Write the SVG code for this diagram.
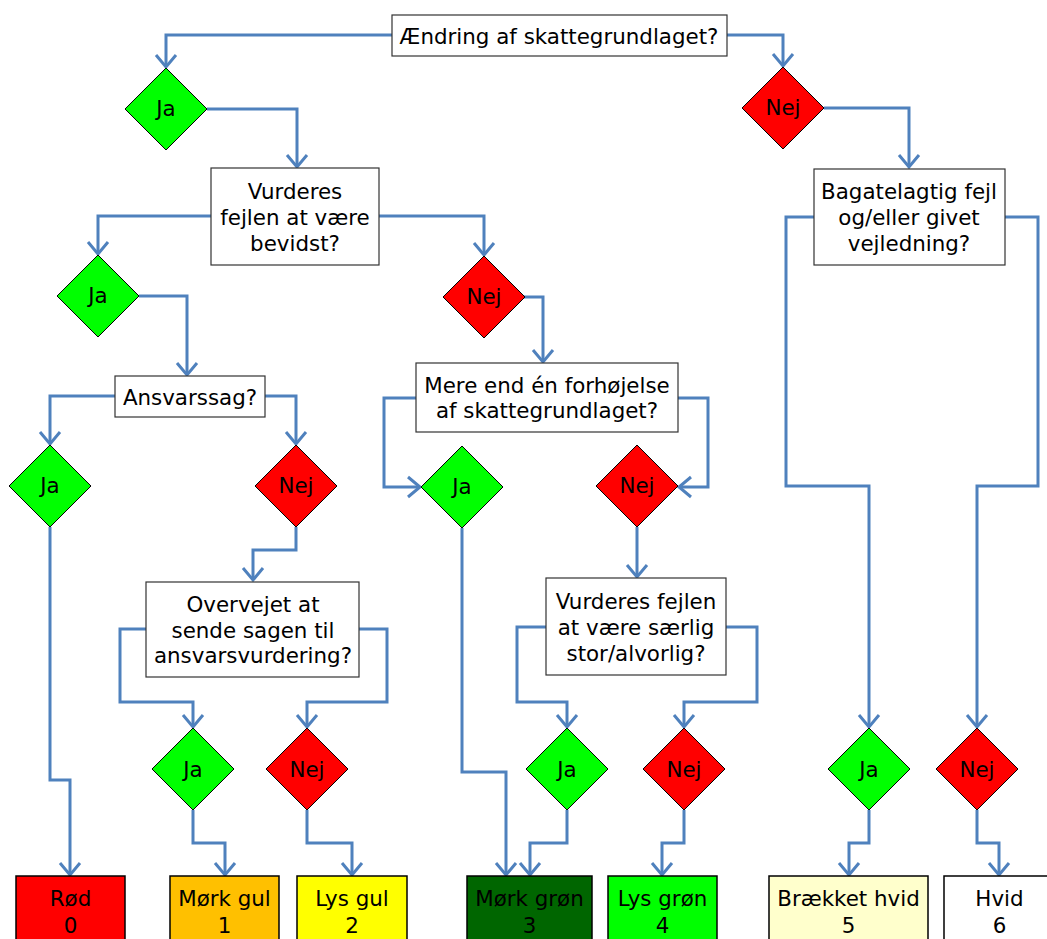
<svg xmlns="http://www.w3.org/2000/svg" width="1047" height="939" viewBox="0 0 1047 939">
<style>
text{font-family:"DejaVu Sans","Verdana",sans-serif;font-size:21.4px;fill:#000;text-anchor:middle}
.q{fill:#fff;stroke:#333;stroke-width:1.2}
.ja{fill:#00ff00;stroke:#000;stroke-width:1}
.nej{fill:#ff0000;stroke:#000;stroke-width:1}
.res{stroke:#000;stroke-width:1.5}
.c path{fill:none;stroke:#4f81bd;stroke-width:3;marker-end:url(#arr)}
</style>
<defs>
<marker id="arr" markerUnits="userSpaceOnUse" orient="auto" refX="0" refY="0" markerWidth="30" markerHeight="30" viewBox="-15 -15 30 30" overflow="visible">
<path d="M-12,-10 L0,0 L-12,10" fill="none" stroke="#4f81bd" stroke-width="3"/>
</marker>
</defs>
<rect width="1047" height="939" fill="#fff"/>
<g class="c" id="connectors">
<path d="M392,35 H166 V67"/>
<path d="M727,35 H783 V66"/>
<path d="M207,109 H297 V167"/>
<path d="M824,108 H909 V167"/>
<path d="M211,216 H98 V254"/>
<path d="M379,216 H484 V255"/>
<path d="M139,296 H187 V375"/>
<path d="M524,297 H543 V362"/>
<path d="M115,396 H50 V444"/>
<path d="M265,396 H296 V444"/>
<path d="M50,527 V780 H70 V875"/>
<path d="M296,527 V550 H253 V580"/>
<path d="M146,629 H120 V702 H193 V727"/>
<path d="M359,629 H387 V702 H307 V727"/>
<path d="M193,810 V843 H225 V875"/>
<path d="M307,810 V843 H352 V875"/>
<path d="M416,398 H384 V487 H420"/>
<path d="M678,398 H708 V487 H679"/>
<path d="M462,528 V772 H506 V875"/>
<path d="M637,527 V577"/>
<path d="M546,627 H517 V702 H567 V727"/>
<path d="M726,627 H757 V702 H684 V727"/>
<path d="M567,810 V843 H530 V875"/>
<path d="M684,810 V843 H662 V875"/>
<path d="M814,217 H786 V486 H869 V727"/>
<path d="M1005,217 H1038 V486 H977 V727"/>
<path d="M869,810 V843 H849 V875"/>
<path d="M977,810 V843 H999 V875"/>
</g>
<g id="q1"><rect class="q" x="392" y="15" width="335" height="41"/><text x="559" y="44">Ændring af skattegrundlaget?</text></g>
<g id="ja1"><polygon class="ja" points="125,109 166,68 207,109 166,150"/><text x="166" y="116">Ja</text></g>
<g id="nej1"><polygon class="nej" points="742,108 783,67 824,108 783,149"/><text x="783" y="115">Nej</text></g>
<g id="q2"><rect class="q" x="211" y="168" width="168" height="97"/><text x="295" y="199">Vurderes</text><text x="295" y="225">fejlen at være</text><text x="295" y="251">bevidst?</text></g>
<g id="q3"><rect class="q" x="814" y="169" width="191" height="96"/><text x="909" y="199">Bagatelagtig fejl</text><text x="909" y="225">og/eller givet</text><text x="909" y="251">vejledning?</text></g>
<g id="ja2"><polygon class="ja" points="57,296 98,255 139,296 98,337"/><text x="98" y="303">Ja</text></g>
<g id="nej2"><polygon class="nej" points="443,297 484,256 525,297 484,338"/><text x="484" y="304">Nej</text></g>
<g id="q4"><rect class="q" x="115" y="376" width="150" height="41"/><text x="190" y="405">Ansvarssag?</text></g>
<g id="q5"><rect class="q" x="416" y="363" width="262" height="69"/><text x="547" y="393">Mere end én forhøjelse</text><text x="547" y="418">af skattegrundlaget?</text></g>
<g id="ja3"><polygon class="ja" points="9,486 50,445 91,486 50,527"/><text x="50" y="493">Ja</text></g>
<g id="nej3"><polygon class="nej" points="255,486 296,445 337,486 296,527"/><text x="296" y="493">Nej</text></g>
<g id="ja5"><polygon class="ja" points="421,487 462,446 503,487 462,528"/><text x="462" y="494">Ja</text></g>
<g id="nej5"><polygon class="nej" points="596,486 637,445 678,486 637,527"/><text x="637" y="493">Nej</text></g>
<g id="q6"><rect class="q" x="146" y="582" width="213" height="95"/><text x="253" y="612">Overvejet at</text><text x="253" y="638">sende sagen til</text><text x="253" y="663">ansvarsvurdering?</text></g>
<g id="q7"><rect class="q" x="546" y="578" width="180" height="97"/><text x="636" y="609">Vurderes fejlen</text><text x="636" y="635">at være særlig</text><text x="636" y="661">stor/alvorlig?</text></g>
<g id="ja4"><polygon class="ja" points="152,769 193,728 234,769 193,810"/><text x="193" y="777">Ja</text></g>
<g id="nej4"><polygon class="nej" points="266,769 307,728 348,769 307,810"/><text x="307" y="777">Nej</text></g>
<g id="ja6"><polygon class="ja" points="526,769 567,728 608,769 567,810"/><text x="567" y="777">Ja</text></g>
<g id="nej6"><polygon class="nej" points="643,769 684,728 725,769 684,810"/><text x="684" y="777">Nej</text></g>
<g id="ja7"><polygon class="ja" points="828,769 869,728 910,769 869,810"/><text x="869" y="777">Ja</text></g>
<g id="nej7"><polygon class="nej" points="936,769 977,728 1018,769 977,810"/><text x="977" y="777">Nej</text></g>
<g id="r0"><rect class="res" x="16" y="876" width="109" height="70" fill="#ff0000"/><text x="70.5" y="906">Rød</text><text x="70.5" y="933">0</text></g>
<g id="r1"><rect class="res" x="170" y="876" width="109" height="70" fill="#ffc000"/><text x="224.5" y="906">Mørk gul</text><text x="224.5" y="933">1</text></g>
<g id="r2"><rect class="res" x="297" y="876" width="110" height="70" fill="#ffff00"/><text x="352" y="906">Lys gul</text><text x="352" y="933">2</text></g>
<g id="r3"><rect class="res" x="467" y="876" width="125" height="70" fill="#006600"/><text x="529.5" y="906">Mørk grøn</text><text x="529.5" y="933">3</text></g>
<g id="r4"><rect class="res" x="608" y="876" width="109" height="70" fill="#00ff00"/><text x="662.5" y="906">Lys grøn</text><text x="662.5" y="933">4</text></g>
<g id="r5"><rect class="res" x="769" y="876" width="159" height="70" fill="#ffffcc"/><text x="848.5" y="906">Brækket hvid</text><text x="848.5" y="933">5</text></g>
<g id="r6"><rect class="res" x="944" y="876" width="111" height="70" fill="#ffffff"/><text x="999.5" y="906">Hvid</text><text x="999.5" y="933">6</text></g>
</svg>
